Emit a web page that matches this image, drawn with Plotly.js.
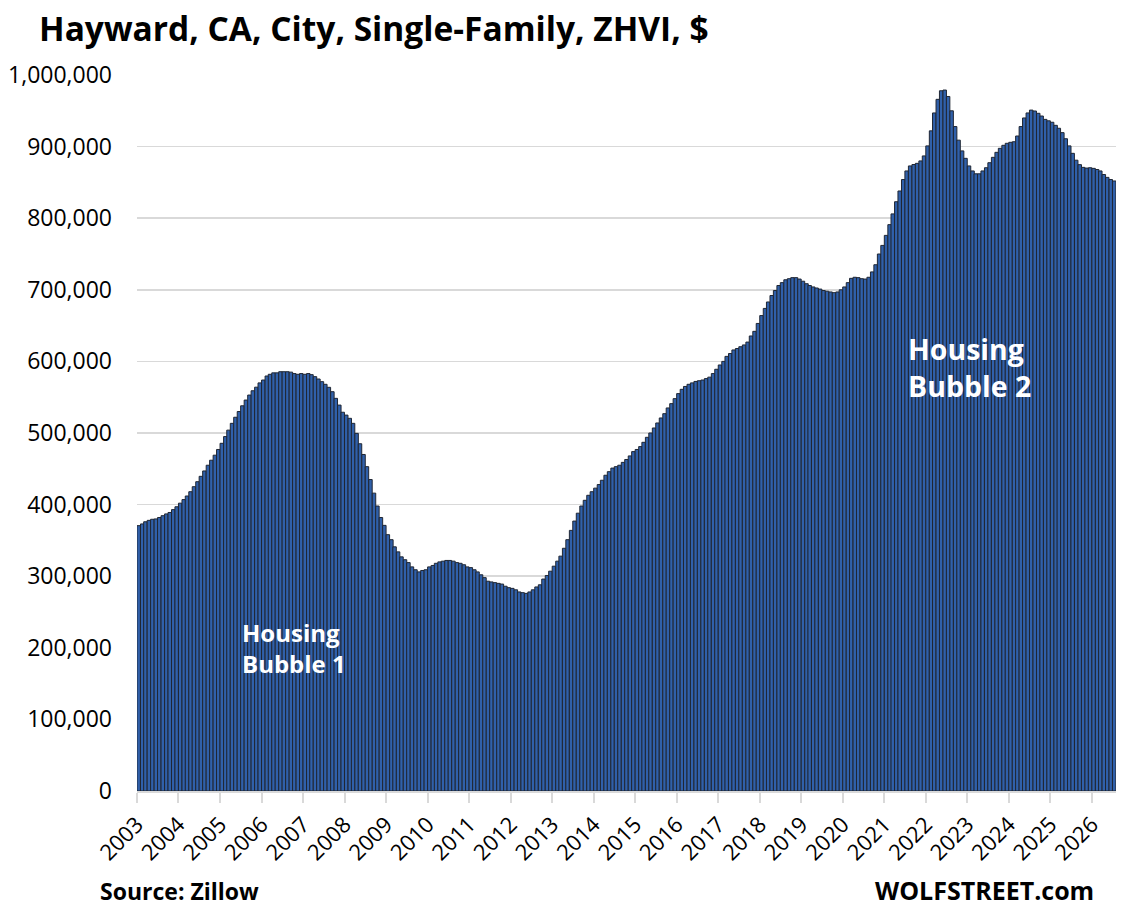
<!DOCTYPE html>
<html>
<head>
<meta charset="utf-8">
<script src="https://cdn.plot.ly/plotly-3.0.1.min.js"></script>
<style>
  html, body { margin: 0; padding: 0; background: #ffffff; }
  #chart { width: 1122px; height: 913px; }
</style>
</head>
<body>
<div id="chart"></div>
<script>
// ---- Data (monthly ZHVI, Hayward CA single-family, $) ----
const startYear = 2003;
const startMonth = 1;

const tickYears = ['2003','2004','2005','2006','2007','2008','2009','2010','2011','2012',
  '2013','2014','2015','2016','2017','2018','2019','2020','2021','2022','2023','2024','2025','2026'];

const yTickValues = [0,100000,200000,300000,400000,500000,600000,700000,800000,900000,1000000];

const zhviValues = [
  370600,373000,376000,378000,379500,380000,382000,384500,387000,389000,393000,397000,
  402000,407000,412000,418000,425000,432000,439500,447000,455000,462000,469000,477000,
  485600,495000,504000,513500,522000,530000,538000,546000,553000,559000,564000,570000,
  574000,579600,582000,584000,584000,585600,585600,585600,585000,583000,582000,583000,
  582000,583000,581500,578700,575400,571700,568000,563800,557700,548400,539000,529000,
  525000,520500,513500,499500,485000,470000,453000,435000,416000,398000,382000,371000,
  358000,351000,341000,334000,327000,323000,319000,313000,309000,306000,308000,309000,
  313000,315000,318000,320000,321000,322000,322000,321000,319000,318000,316000,313000,
  312000,309000,306000,302000,298000,293000,292000,291000,290000,289000,286000,284000,
  283000,281000,278000,277000,276000,278000,281000,285000,288000,296000,301000,307000,
  314000,321000,328000,339000,351000,364000,377000,388000,398000,406000,413000,418000,
  423000,428000,434000,441000,446000,451000,453000,455000,459000,463000,468000,474000,
  477000,481000,487000,494000,500000,507000,514000,521000,527000,535000,541000,548000,
  555000,561000,565000,568000,570000,572000,573000,574000,576000,578000,583000,589000,
  595000,600000,607000,611000,616000,618000,620500,623000,627000,635500,642000,653000,
  664000,674000,683000,692000,699000,706000,710000,714000,715500,717000,717000,715000,
  712000,708500,706000,704000,702500,701000,699000,698000,697000,696000,697000,700000,
  704000,710000,716000,717500,717000,715500,715000,717500,725000,735000,750000,762000,
  776000,791000,806000,823000,838000,854000,866000,873000,875000,876600,880000,887000,
  901000,922000,947000,966000,978000,979000,970000,950000,928000,909000,894000,883600,
  873000,866000,862000,862000,866000,870500,877500,885000,892000,897600,901800,904600,
  906000,906800,914800,928000,940000,947000,951000,949700,946500,942700,938000,936000,
  934000,929700,925600,919500,911000,901000,890600,881000,874800,871000,870000,870500,
  869600,868000,866000,861000,857000,854000,852000
];

// month categories (mid-month dates) built from the start month
const months = zhviValues.map((v, i) => {
  const m0 = startMonth - 1 + i;
  const y = startYear + Math.floor(m0 / 12);
  const m = (m0 % 12) + 1;
  return y + '-' + String(m).padStart(2, '0') + '-16';
});

const lastIdx = startMonth - 1 + zhviValues.length;
const endY = startYear + Math.floor(lastIdx / 12);
const endM = (lastIdx % 12) + 1;
const rangeEnd = endY + '-' + String(endM).padStart(2, '0') + '-01';

const FONT = '"Open Sans", "DejaVu Sans", sans-serif';
const monthMs = 30.44 * 86400000;

const PL = 137, PR = 1116, PT = 75, PB = 791;
const px = x => (x - PL) / (PR - PL);
const py = y => (PB - y) / (PB - PT);

const trace = {
  type: 'bar',
  x: months,
  y: zhviValues,
  width: monthMs,
  marker: { color: '#3060aa', line: { color: '#1f2633', width: 1.0 } },
  hoverinfo: 'x+y'
};

const layout = {
  width: 1122,
  height: 913,
  paper_bgcolor: '#ffffff',
  plot_bgcolor: '#ffffff',
  margin: { l: PL, r: 1122 - PR, t: PT, b: 913 - PB },
  showlegend: false,
  font: { family: FONT, color: '#000000', size: 22 },
  title: {
    text: '<b>Hayward, CA, City, Single-Family, ZHVI, $</b>',
    font: { family: FONT, size: 33.5, color: '#000000' },
    x: 39 / 1122, xanchor: 'left', xref: 'container',
    y: 1 - 29 / 913, yanchor: 'middle', yref: 'container'
  },
  xaxis: {
    type: 'date',
    range: [startYear + '-01-01', rangeEnd],
    tickvals: tickYears.map(y => y + '-01-01'),
    ticktext: tickYears,
    tickangle: -45,
    ticks: 'outside',
    ticklen: 10,
    tickwidth: 2,
    tickcolor: '#d9d9d9',
    showline: true,
    linecolor: '#d9d9d9',
    linewidth: 2,
    showgrid: false,
    zeroline: false,
    tickfont: { family: FONT, size: 22, color: '#000000' },
    fixedrange: true
  },
  yaxis: {
    range: [0, 1000000],
    tickvals: yTickValues,
    ticktext: yTickValues.map(v => v.toLocaleString('en-US')),
    showgrid: true,
    gridcolor: '#d9d9d9',
    gridwidth: 1.5,
    zeroline: false,
    showline: false,
    ticks: '',
    ticklabelstandoff: 24,
    tickfont: { family: FONT, size: 23, color: '#000000' },
    fixedrange: true
  },
  annotations: [
    {
      text: '<b>Housing<br>Bubble 1</b>',
      xref: 'paper', yref: 'paper', x: px(240), y: py(614),
      xanchor: 'left', yanchor: 'top', align: 'left', showarrow: false,
      font: { family: FONT, size: 24, color: '#ffffff' }
    },
    {
      text: '<b>Housing<br>Bubble 2</b>',
      xref: 'paper', yref: 'paper', x: px(906), y: py(328),
      xanchor: 'left', yanchor: 'top', align: 'left', showarrow: false,
      font: { family: FONT, size: 28.5, color: '#ffffff' }
    },
    {
      text: '<b>Source: Zillow</b>',
      xref: 'paper', yref: 'paper', x: px(98), y: py(891),
      xanchor: 'left', yanchor: 'middle', showarrow: false,
      font: { family: FONT, size: 23, color: '#000000' }
    },
    {
      text: '<b>WOLFSTREET.com</b>',
      xref: 'paper', yref: 'paper', x: px(1096), y: py(890),
      xanchor: 'right', yanchor: 'middle', showarrow: false,
      font: { family: FONT, size: 25, color: '#000000' }
    }
  ]
};

Plotly.newPlot('chart', [trace], layout, { displayModeBar: false, staticPlot: true });
</script>
</body>
</html>
